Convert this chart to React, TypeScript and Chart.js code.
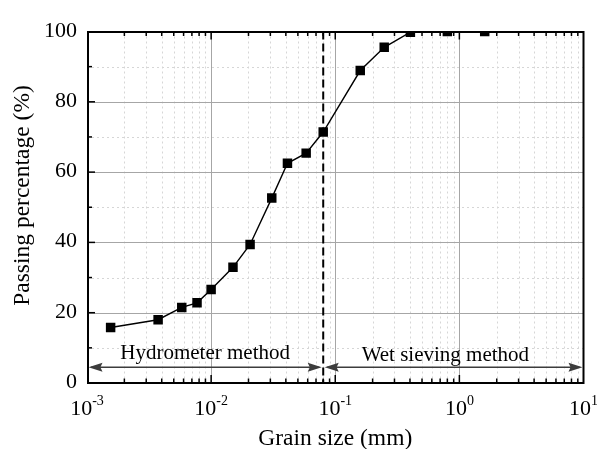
import React, { useEffect, useRef } from "react";
import { Chart, registerables } from "chart.js";

Chart.register(...registerables);

// ---- data ----
const grainSize = [0.00155, 0.00374, 0.0058, 0.0077, 0.01, 0.015, 0.0206, 0.0308, 0.0412, 0.0583, 0.08, 0.159, 0.248, 0.403, 0.8, 1.6];
const passing = [15.8, 18.0, 21.5, 22.8, 26.6, 32.9, 39.4, 52.6, 62.5, 65.4, 71.4, 88.9, 95.5, 99.8, 100, 100];

const yMajorTicks = [0, 20, 40, 60, 80, 100];
const yMinorTicks = [10, 30, 50, 70, 90];
const xDecades = [-3, -2, -1, 0, 1];
const xMinorMultipliers = [2, 3, 4, 5, 6, 7, 8, 9];

const dividerSize = 0.08;
const arrowLevel = 4.5;
const methodLabels = ["Hydrometer method", "Wet sieving method"];
const methodLabelX = [0.00895, 0.771];
const methodLabelY = [6.9, 6.3];

const xTitle = "Grain size (mm)";
const yTitle = "Passing percentage (%)";

const SERIF = '"Liberation Serif", "Times New Roman", serif';

function arrowHead(ctx: CanvasRenderingContext2D, tipX: number, y: number, dir: number) {
  const len = 14;
  const hw = 4.5;
  ctx.beginPath();
  ctx.moveTo(tipX, y);
  ctx.lineTo(tipX - dir * len, y - hw);
  ctx.lineTo(tipX - dir * len * 0.85, y);
  ctx.lineTo(tipX - dir * len, y + hw);
  ctx.closePath();
  ctx.fill();
}

const decor = {
  id: "decor",
  beforeDraw(chart: any) {
    const ctx = chart.ctx;
    ctx.save();
    ctx.fillStyle = "#ffffff";
    ctx.fillRect(0, 0, chart.width, chart.height);
    ctx.restore();
  },
  beforeDatasetsDraw(chart: any) {
    const { ctx, chartArea: a, scales } = chart;
    const x = scales.x;
    const y = scales.y;
    ctx.save();
    // minor grid
    ctx.strokeStyle = "#d6d6d6";
    ctx.lineWidth = 1;
    ctx.setLineDash([2, 3]);
    for (const v of yMinorTicks) {
      const py = Math.round(y.getPixelForValue(v)) + 0.5;
      ctx.beginPath();
      ctx.moveTo(a.left, py);
      ctx.lineTo(a.right, py);
      ctx.stroke();
    }
    for (const d of xDecades) {
      for (const m of xMinorMultipliers) {
        const val = m * Math.pow(10, d);
        if (val >= 10) continue;
        const px = Math.round(x.getPixelForValue(val)) + 0.5;
        ctx.beginPath();
        ctx.moveTo(px, a.top);
        ctx.lineTo(px, a.bottom);
        ctx.stroke();
      }
    }
    // major grid
    ctx.setLineDash([]);
    ctx.strokeStyle = "#a6a6a6";
    for (const v of yMajorTicks) {
      if (v === 0 || v === 100) continue;
      const py = Math.round(y.getPixelForValue(v)) + 0.5;
      ctx.beginPath();
      ctx.moveTo(a.left, py);
      ctx.lineTo(a.right, py);
      ctx.stroke();
    }
    for (const d of xDecades) {
      if (d === -3 || d === 1) continue;
      const px = Math.round(x.getPixelForValue(Math.pow(10, d))) + 0.5;
      ctx.beginPath();
      ctx.moveTo(px, a.top);
      ctx.lineTo(px, a.bottom);
      ctx.stroke();
    }
    // divider dashed line
    const dx = x.getPixelForValue(dividerSize);
    ctx.strokeStyle = "#000";
    ctx.lineWidth = 2;
    ctx.setLineDash([8, 4]);
    ctx.beginPath();
    ctx.moveTo(dx, a.top);
    ctx.lineTo(dx, a.bottom);
    ctx.stroke();
    ctx.setLineDash([]);

    // arrows
    const ay = y.getPixelForValue(arrowLevel);
    ctx.strokeStyle = "#3c3c3c";
    ctx.fillStyle = "#3c3c3c";
    ctx.lineWidth = 1.5;
    ctx.beginPath();
    ctx.moveTo(a.left + 4, ay);
    ctx.lineTo(dx - 4, ay);
    ctx.moveTo(dx + 4, ay);
    ctx.lineTo(a.right - 4, ay);
    ctx.stroke();
    arrowHead(ctx, a.left + 1.5, ay, -1);
    arrowHead(ctx, dx - 1.5, ay, 1);
    arrowHead(ctx, dx + 1.5, ay, -1);
    arrowHead(ctx, a.right - 1, ay, 1);

    // method labels
    ctx.fillStyle = "#000";
    ctx.font = `21px ${SERIF}`;
    ctx.textAlign = "center";
    ctx.textBaseline = "alphabetic";
    methodLabels.forEach((t, i) => {
      ctx.fillText(t, x.getPixelForValue(methodLabelX[i]), y.getPixelForValue(methodLabelY[i]));
    });
    ctx.restore();
  },
  afterDatasetsDraw(chart: any) {
    const { ctx, chartArea: a, scales } = chart;
    const x = scales.x;
    const y = scales.y;
    ctx.save();
    // frame
    ctx.strokeStyle = "#000";
    ctx.lineWidth = 2;
    ctx.strokeRect(a.left + 1, a.top + 0.5, a.right - a.left - 1, a.bottom - a.top - 0.5);

    // ticks
    ctx.lineWidth = 1.5;
    const majorLen = 8;
    const minorLen = 4.5;
    const vTick = (px: number, len: number) => {
      ctx.beginPath();
      ctx.moveTo(px, a.bottom);
      ctx.lineTo(px, a.bottom - len);
      ctx.moveTo(px, a.top);
      ctx.lineTo(px, a.top + len);
      ctx.stroke();
    };
    for (const d of xDecades) {
      const px = x.getPixelForValue(Math.pow(10, d));
      if (d !== -3 && d !== 1) vTick(px, majorLen);
      for (const m of xMinorMultipliers) {
        const val = m * Math.pow(10, d);
        if (val >= 10) continue;
        vTick(x.getPixelForValue(val), minorLen);
      }
    }
    const hTick = (py: number, len: number) => {
      ctx.beginPath();
      ctx.moveTo(a.left, py);
      ctx.lineTo(a.left + len, py);
      ctx.stroke();
    };
    for (const v of yMajorTicks) {
      if (v === 0 || v === 100) continue;
      hTick(y.getPixelForValue(v), majorLen);
    }
    for (const v of yMinorTicks) hTick(y.getPixelForValue(v), minorLen + 0.5);

    // y tick labels
    ctx.fillStyle = "#000";
    ctx.font = `22px ${SERIF}`;
    ctx.textAlign = "right";
    ctx.textBaseline = "alphabetic";
    for (const v of yMajorTicks) {
      ctx.fillText(String(v), 77, y.getPixelForValue(v) + 5);
    }

    // x tick labels 10^n
    ctx.textAlign = "left";
    for (const d of xDecades) {
      const px = x.getPixelForValue(Math.pow(10, d));
      ctx.font = `22px ${SERIF}`;
      const w1 = ctx.measureText("10").width;
      ctx.font = `14px ${SERIF}`;
      const sup = String(d);
      const w2 = ctx.measureText(sup).width;
      const start = px - (w1 + w2) / 2;
      ctx.font = `22px ${SERIF}`;
      ctx.fillText("10", start, 414.5);
      ctx.font = `14px ${SERIF}`;
      ctx.fillText(sup, start + w1, 404.5);
    }

    // axis titles
    ctx.font = `23.5px ${SERIF}`;
    ctx.textAlign = "center";
    ctx.textBaseline = "alphabetic";
    ctx.fillText(xTitle, (a.left + a.right) / 2, 445);
    ctx.save();
    ctx.translate(23, 195.5);
    ctx.rotate(-Math.PI / 2);
    ctx.textBaseline = "middle";
    ctx.fillText(yTitle, 0, 0);
    ctx.restore();

    ctx.restore();
  },
};

export default function App() {
  const ref = useRef<HTMLCanvasElement | null>(null);
  useEffect(() => {
    document.body.style.margin = "0";
    const canvas = ref.current;
    if (!canvas) return;
    const chart = new Chart(canvas, {
      type: "line",
      data: {
        datasets: [
          {
            data: grainSize.map((g, i) => ({ x: g, y: passing[i] })),
            borderColor: "#000",
            borderWidth: 1.4,
            pointStyle: "rect",
            pointRadius: 6.7,
            pointBackgroundColor: "#000",
            pointBorderWidth: 0,
            clip: 0,
            tension: 0,
          } as any,
        ],
      },
      options: {
        responsive: false,
        animation: false,
        devicePixelRatio: 1,
        layout: { padding: { left: 87, right: 13.5, top: 31.5, bottom: 66 } },
        plugins: { legend: { display: false }, tooltip: { enabled: false } },
        events: [],
        scales: {
          x: { type: "logarithmic", min: 0.001, max: 10, display: false },
          y: { type: "linear", min: 0, max: 100, display: false },
        },
      },
      plugins: [decor],
    });
    return () => chart.destroy();
  }, []);
  return (
    <canvas
      ref={ref}
      width={597}
      height={449}
      style={{ position: "fixed", left: 0, top: 0, width: 597, height: 449, display: "block" }}
    />
  );
}
